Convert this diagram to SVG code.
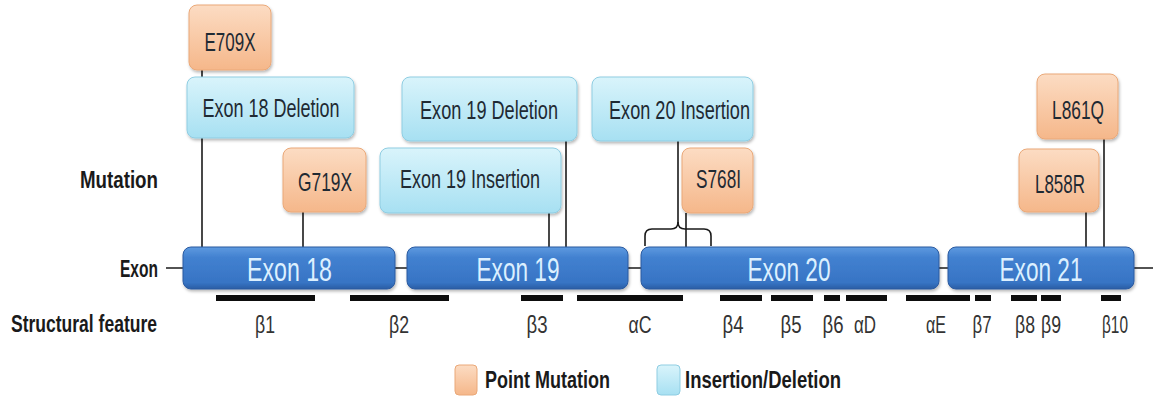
<svg xmlns="http://www.w3.org/2000/svg" width="1153" height="399" viewBox="0 0 1153 399">
  <defs>
    <linearGradient id="gOrange" x1="0" y1="0" x2="0" y2="1">
      <stop offset="0" stop-color="#fcdcc3"/>
      <stop offset="1" stop-color="#f5b78a"/>
    </linearGradient>
    <linearGradient id="gBlue" x1="0" y1="0" x2="0" y2="1">
      <stop offset="0" stop-color="#d9f4fb"/>
      <stop offset="1" stop-color="#a7e0f2"/>
    </linearGradient>
    <linearGradient id="gExon" x1="0" y1="0" x2="0" y2="1">
      <stop offset="0" stop-color="#5e9ae0"/>
      <stop offset="0.25" stop-color="#4281d0"/>
      <stop offset="0.85" stop-color="#3774c4"/>
      <stop offset="1" stop-color="#2a5da4"/>
    </linearGradient>
    <filter id="shadow" x="-10%" y="-10%" width="125%" height="135%">
      <feDropShadow dx="1" dy="2" stdDeviation="1.5" flood-color="#000" flood-opacity="0.28"/>
    </filter>
  </defs>
  <style>
    text { font-family: "Liberation Sans", Arial, sans-serif; }
    .row { font-weight: bold; font-size: 24px; fill: #1a1a1a; }
    .box-label { font-size: 25px; fill: #1f2a33; text-anchor: middle; }
    .exon-label { font-size: 34px; fill: #dcf0ff; text-anchor: middle; }
    .sf-label { font-size: 24px; fill: #333; text-anchor: middle; }
    .legend { font-weight: bold; font-size: 24px; fill: #1a1a1a; }
    .pm { fill: url(#gOrange); stroke: #eaa878; stroke-width: 1; filter: url(#shadow); }
    .indel { fill: url(#gBlue); stroke: #8fcde2; stroke-width: 1; filter: url(#shadow); }
    .exon { fill: url(#gExon); stroke: #2a5aa0; stroke-width: 1; filter: url(#shadow); }
    .link { stroke: #1a1a1a; stroke-width: 1.6; fill: none; }
    .sf { fill: #0d0d0d; }
  </style>

  <rect width="1153" height="399" fill="#ffffff"/>

  <!-- row titles -->
  <g id="row-titles">
    <text class="row" x="80" y="188" textLength="78" lengthAdjust="spacingAndGlyphs">Mutation</text>
    <text class="row" x="120" y="277" font-size="21" textLength="38" lengthAdjust="spacingAndGlyphs">Exon</text>
    <text class="row" x="11" y="332" textLength="146" lengthAdjust="spacingAndGlyphs">Structural feature</text>
  </g>

  <!-- backbone and mutation leader lines -->
  <g id="connectors">
    <line class="link" x1="166" y1="268" x2="1153" y2="268" stroke-width="4"/>
    <line class="link" x1="202" y1="70" x2="202" y2="248"/>
    <line class="link" x1="303" y1="212" x2="303" y2="248"/>
    <line class="link" x1="549" y1="213" x2="549" y2="248"/>
    <line class="link" x1="566" y1="141" x2="566" y2="248"/>
    <line class="link" x1="678" y1="141" x2="678" y2="223"/>
    <path class="link" d="M645,246 L645,236 Q645,229 652,229 L671,229 Q678,229 678,222 Q678,229 685,229 L704,229 Q711,229 711,236 L711,246" stroke-width="2"/>
    <line class="link" x1="686" y1="213" x2="686" y2="248"/>
    <line class="link" x1="1086" y1="212" x2="1086" y2="248"/>
    <line class="link" x1="1104" y1="139" x2="1104" y2="248"/>
  </g>

  <!-- exons -->
  <g id="exon18">
    <rect class="exon" x="183" y="247" width="212" height="42" rx="8"/>
    <text class="exon-label" x="289.5" y="281" textLength="85" lengthAdjust="spacingAndGlyphs">Exon 18</text>
  </g>
  <g id="exon19">
    <rect class="exon" x="407" y="247" width="221" height="42" rx="8"/>
    <text class="exon-label" x="518" y="281" textLength="83" lengthAdjust="spacingAndGlyphs">Exon 19</text>
  </g>
  <g id="exon20">
    <rect class="exon" x="641" y="247" width="298" height="42" rx="8"/>
    <text class="exon-label" x="789" y="281" textLength="83" lengthAdjust="spacingAndGlyphs">Exon 20</text>
  </g>
  <g id="exon21">
    <rect class="exon" x="948" y="247" width="186" height="42" rx="8"/>
    <text class="exon-label" x="1041" y="281" textLength="83" lengthAdjust="spacingAndGlyphs">Exon 21</text>
  </g>

  <!-- mutations -->
  <g id="e709x">
    <rect class="pm" x="189" y="5" width="82" height="65" rx="8"/>
    <text class="box-label" x="230" y="51" textLength="51" lengthAdjust="spacingAndGlyphs">E709X</text>
  </g>
  <g id="exon18-deletion">
    <rect class="indel" x="187" y="77" width="167" height="61" rx="8"/>
    <text class="box-label" x="271" y="117" textLength="137" lengthAdjust="spacingAndGlyphs">Exon 18 Deletion</text>
  </g>
  <g id="g719x">
    <rect class="pm" x="283" y="148" width="83" height="64" rx="8"/>
    <text class="box-label" x="325" y="191" textLength="54" lengthAdjust="spacingAndGlyphs">G719X</text>
  </g>
  <g id="exon19-deletion">
    <rect class="indel" x="402" y="77" width="175" height="64" rx="8"/>
    <text class="box-label" x="489" y="119" textLength="138" lengthAdjust="spacingAndGlyphs">Exon 19 Deletion</text>
  </g>
  <g id="exon19-insertion">
    <rect class="indel" x="380" y="148" width="181" height="65" rx="8"/>
    <text class="box-label" x="470" y="188" textLength="140" lengthAdjust="spacingAndGlyphs">Exon 19 Insertion</text>
  </g>
  <g id="exon20-insertion">
    <rect class="indel" x="592" y="77" width="161" height="64" rx="8"/>
    <text class="box-label" x="679.5" y="119" textLength="141" lengthAdjust="spacingAndGlyphs">Exon 20 Insertion</text>
  </g>
  <g id="s768i">
    <rect class="pm" x="682" y="148" width="71" height="65" rx="8"/>
    <text class="box-label" x="718.5" y="188" textLength="45" lengthAdjust="spacingAndGlyphs">S768I</text>
  </g>
  <g id="l861q">
    <rect class="pm" x="1037" y="74" width="81" height="65" rx="8"/>
    <text class="box-label" x="1078" y="119" textLength="52" lengthAdjust="spacingAndGlyphs">L861Q</text>
  </g>
  <g id="l858r">
    <rect class="pm" x="1019" y="149" width="80" height="63" rx="8"/>
    <text class="box-label" x="1060" y="193" textLength="50" lengthAdjust="spacingAndGlyphs">L858R</text>
  </g>

  <!-- structural features -->
  <g id="structural-features">
    <rect class="sf" x="216" y="295" width="99" height="6"/>
    <rect class="sf" x="350" y="295" width="99" height="6"/>
    <rect class="sf" x="521" y="295" width="42" height="6"/>
    <rect class="sf" x="577" y="295" width="106" height="6"/>
    <rect class="sf" x="720" y="295" width="42" height="6"/>
    <rect class="sf" x="771" y="295" width="42" height="6"/>
    <rect class="sf" x="824" y="295" width="16" height="6"/>
    <rect class="sf" x="846" y="295" width="41" height="6"/>
    <rect class="sf" x="906" y="295" width="64" height="6"/>
    <rect class="sf" x="975" y="295" width="16" height="6"/>
    <rect class="sf" x="1011" y="295" width="26" height="6"/>
    <rect class="sf" x="1041" y="295" width="20" height="6"/>
    <rect class="sf" x="1101" y="295" width="20" height="6"/>
    <text class="sf-label" x="265" y="333" textLength="20" lengthAdjust="spacingAndGlyphs">β1</text>
    <text class="sf-label" x="399" y="333" textLength="20" lengthAdjust="spacingAndGlyphs">β2</text>
    <text class="sf-label" x="537" y="333" textLength="21" lengthAdjust="spacingAndGlyphs">β3</text>
    <text class="sf-label" x="640" y="333" textLength="23" lengthAdjust="spacingAndGlyphs">αC</text>
    <text class="sf-label" x="733" y="333" textLength="21" lengthAdjust="spacingAndGlyphs">β4</text>
    <text class="sf-label" x="791" y="333" textLength="21" lengthAdjust="spacingAndGlyphs">β5</text>
    <text class="sf-label" x="833" y="333" textLength="21" lengthAdjust="spacingAndGlyphs">β6</text>
    <text class="sf-label" x="865" y="333" textLength="22" lengthAdjust="spacingAndGlyphs">αD</text>
    <text class="sf-label" x="936" y="333" textLength="20" lengthAdjust="spacingAndGlyphs">αE</text>
    <text class="sf-label" x="982" y="333" textLength="19" lengthAdjust="spacingAndGlyphs">β7</text>
    <text class="sf-label" x="1025" y="333" textLength="20" lengthAdjust="spacingAndGlyphs">β8</text>
    <text class="sf-label" x="1051" y="333" textLength="20" lengthAdjust="spacingAndGlyphs">β9</text>
    <text class="sf-label" x="1115" y="333" textLength="26" lengthAdjust="spacingAndGlyphs">β10</text>
  </g>

  <!-- legend -->
  <g id="legend">
    <rect x="455" y="365" width="22" height="30" rx="4" fill="url(#gOrange)" stroke="#eaa878"/>
    <text class="legend" x="485" y="388" textLength="125" lengthAdjust="spacingAndGlyphs">Point Mutation</text>
    <rect x="657" y="365" width="23" height="30" rx="4" fill="url(#gBlue)" stroke="#8fcde2"/>
    <text class="legend" x="685" y="388" textLength="156" lengthAdjust="spacingAndGlyphs">Insertion/Deletion</text>
  </g>
</svg>
